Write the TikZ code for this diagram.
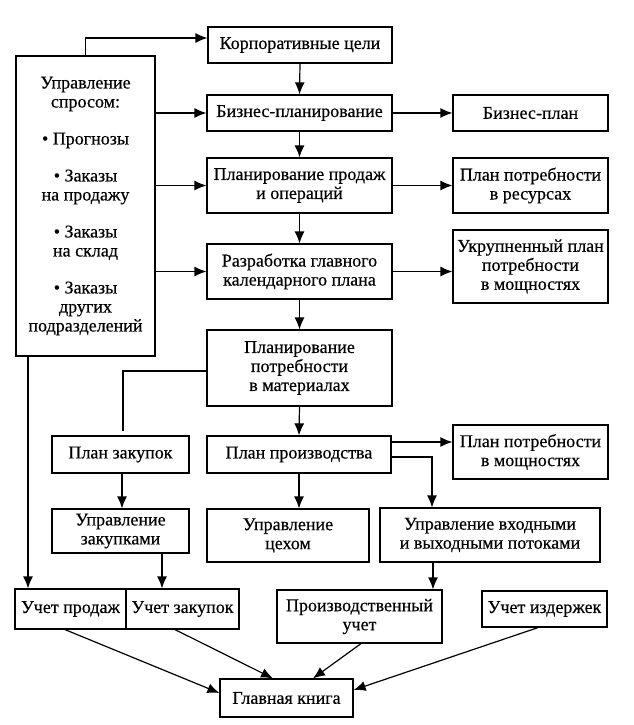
\documentclass[tikz,border=0pt]{standalone}
\usepackage{fontspec}
\setmainfont[FakeBold=0.4]{Liberation Serif}
\usetikzlibrary{arrows.meta}
\tikzset{
  box/.style={draw, line width=1.2pt, fill=white, align=center, inner sep=0pt,
    font={\fontsize{18}{19}\selectfont}},
  arr/.style={line width=1.2pt, -{Latex[length=12pt,width=10pt]}},
  ln/.style={line width=1.2pt}
}
\begin{document}
\begin{tikzpicture}[x=1pt,y=-1pt]
\useasboundingbox[fill=white] (0,0) rectangle (633,725);
% boxes
\node[box, minimum width=139pt, minimum height=300pt] (dem) at (85.5,206)
  {Управление\\спросом:\\[18pt]\textbullet\ Прогнозы\\[18pt]\textbullet\ Заказы\\на продажу\\[18pt]\textbullet\ Заказы\\на склад\\[18pt]\textbullet\ Заказы\\других\\подразделений};
\node[box, minimum width=184pt, minimum height=36pt] (corp) at (300,45) {Корпоративные цели};
\node[box, minimum width=185pt, minimum height=36pt] (biz) at (299.5,113) {Бизнес-планирование};
\node[box, minimum width=155pt, minimum height=36pt] (bplan) at (530.5,113) {Бизнес-план};
\node[box, minimum width=185pt, minimum height=55pt] (sop) at (299.5,185.5) {Планирование продаж\\и операций};
\node[box, minimum width=155pt, minimum height=55pt] (res) at (530.5,185.5) {План потребности\\в ресурсах};
\node[box, minimum width=185pt, minimum height=55pt] (mps) at (299.5,271.5) {Разработка главного\\календарного плана};
\node[box, minimum width=155pt, minimum height=73pt] (rccp) at (530.5,266.5) {Укрупненный план\\потребности\\в мощностях};
\node[box, minimum width=185pt, minimum height=76pt] (mrp) at (299.5,368) {Планирование\\потребности\\в материалах};
\node[box, minimum width=137pt, minimum height=37pt] (purch) at (120.5,454.5) {План закупок};
\node[box, minimum width=184pt, minimum height=37pt] (prod) at (299,454.5) {План производства};
\node[box, minimum width=155pt, minimum height=54pt] (cap) at (530.5,452) {План потребности\\в мощностях};
\node[box, minimum width=137pt, minimum height=44pt] (pm) at (120.5,531) {Управление\\закупками};
\node[box, minimum width=162pt, minimum height=53pt] (shop) at (288,535.5) {Управление\\цехом};
\node[box, minimum width=220pt, minimum height=54pt] (io) at (490,535) {Управление входными\\и выходными потоками};
\node[box, minimum width=111pt, minimum height=40pt] (sa) at (70.5,609) {Учет продаж};
\node[box, minimum width=113pt, minimum height=40pt] (pa) at (182.5,609) {Учет закупок};
\node[box, minimum width=165pt, minimum height=53pt] (ma) at (359.5,616.5) {Производственный\\учет};
\node[box, minimum width=125pt, minimum height=36pt] (ca) at (544.5,609) {Учет издержек};
\node[box, minimum width=133pt, minimum height=38pt] (gl) at (286.5,698) {Главная книга};
% connectors
\draw[arr] (dem.north) |- ([yshift=7pt]corp.west);
\draw[arr] (biz.west -| dem.east) -- (biz.west);
\draw[arr] (sop.west -| dem.east) -- (sop.west);
\draw[arr] (mps.west -| dem.east) -- (mps.west);
\draw[arr] (corp.south) -- (biz.north);
\draw[arr] (biz.south) -- (sop.north);
\draw[arr] (sop.south) -- (mps.north);
\draw[arr] (mps.south) -- (mrp.north);
\draw[arr] (biz.east) -- (bplan.west);
\draw[arr] (sop.east) -- (res.west);
\draw[arr] (mps.east) -- (mps.east -| rccp.west);
\draw[ln] ([yshift=-3pt]mrp.west) -| ([xshift=2.5pt,yshift=4pt]purch.north);
\draw[arr] (mrp.south) -- (prod.north);
\draw[arr] ([yshift=12.5pt]prod.east) -- ([yshift=12.5pt]prod.east -| cap.west);
\draw[arr] ([yshift=-2.5pt]prod.east) -| ([xshift=-58pt]io.north);
\draw[arr] ([xshift=1.5pt]purch.south) -- ([xshift=1.5pt]pm.north);
\draw[arr] (prod.south) -- (prod.south |- shop.north);
\draw[arr] ([xshift=-57.5pt]dem.south) -- ([xshift=-42.5pt]sa.north);
\draw[arr] ([xshift=41.5pt]pm.south) -- ([xshift=-20.5pt]pa.north);
\draw[arr] ([xshift=-57pt]io.south) -- ([xshift=73.5pt]ma.north);
\draw[arr] ([xshift=-5.5pt]sa.south) -- ([yshift=5pt]gl.west);
\draw[arr] ([xshift=-7.5pt]pa.south) -- ([xshift=-13.5pt]gl.north);
\draw[arr] ([xshift=1.5pt]ma.south) -- ([xshift=26.5pt]gl.north);
\draw[arr] ([xshift=-6.5pt]ca.south) -- ([yshift=8pt]gl.east);
\end{tikzpicture}
\end{document}
